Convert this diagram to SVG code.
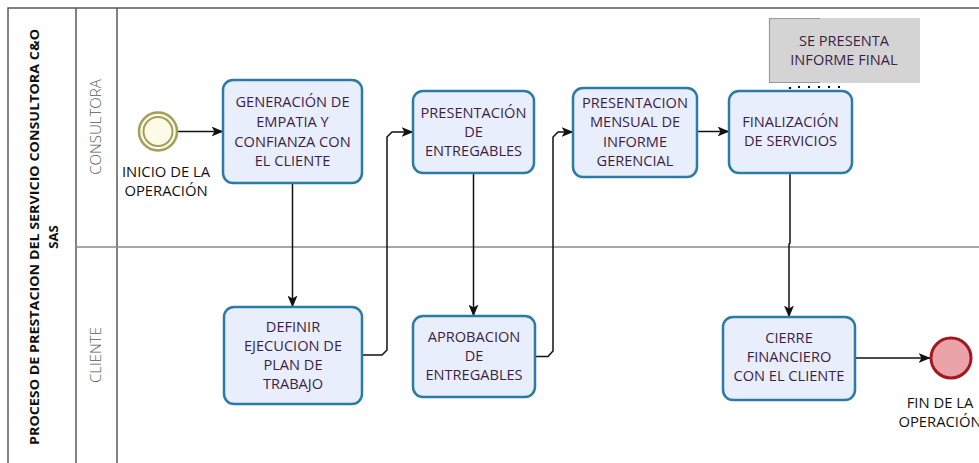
<svg xmlns="http://www.w3.org/2000/svg" width="979" height="463" viewBox="0 0 979 463">
<style>
text{font-family:"Open Sans","Noto Sans","Liberation Sans",sans-serif;font-size:14.6px;text-anchor:middle}
.task rect{fill:#e9eefc;stroke:#2b7ba6;stroke-width:2.5}
.task text{fill:#3d1f45}
.pool{fill:none;stroke:#5a5a5a;stroke-width:1.5}
.lanediv{stroke:#8a8a8a;stroke-width:1.5}
.lane{fill:#5a5a5a;font-weight:300;font-size:15px}
.flow{fill:none;stroke:#111;stroke-width:1.5;marker-end:url(#arr)}
.ev{fill:#111;font-size:14.8px}
.title{font-weight:bold;font-size:13.2px;fill:#111}
</style>
<defs>
<marker id="arr" viewBox="0 0 12 10" refX="11.5" refY="5" markerWidth="12" markerHeight="10" markerUnits="userSpaceOnUse" orient="auto">
<path d="M0,0 L12,5 L0,10 L3,5 z" fill="#111"/>
</marker>
</defs>
<rect width="979" height="463" fill="#fff"/>
<g id="pool">
<path class="pool" d="M979,8 L8,8 L8,470 M76,8 L76,470 M117,8 L117,470"/>
<line class="lanediv" x1="76" y1="247" x2="979" y2="247"/>
<text class="title" transform="translate(39,237) rotate(-90)" textLength="416" lengthAdjust="spacingAndGlyphs">PROCESO DE PRESTACION DEL SERVICIO CONSULTORA C&amp;O</text>
<text class="title" transform="translate(58,237) rotate(-90)">SAS</text>
</g>
<g id="lane-consultora"><text class="lane" transform="translate(101,127) rotate(-90)">CONSULTORA</text></g>
<g id="lane-cliente"><text class="lane" transform="translate(101,355) rotate(-90)">CLIENTE</text></g>
<g id="connectors">
<path class="flow" d="M178,131.5 L223,131.5"/>
<path class="flow" d="M292.5,183 L292.5,307"/>
<path class="flow" d="M362,355 L382,355 L387,350 L387,137 L392,132 L413,132"/>
<path class="flow" d="M473.5,173 L473.5,316"/>
<path class="flow" d="M535,356.5 L548,356.5 L553,351 L553,137 L558,132 L573,132"/>
<path class="flow" d="M697,131.5 L729,131.5"/>
<path class="flow" d="M790,173 L790,243 L789,244 L789,317"/>
<path class="flow" d="M855,358 L930,358"/>
<path d="M790,89 L790,87 L843,87" fill="none" stroke="#111" stroke-width="2.2" stroke-dasharray="2 8"/>
</g>
<g id="start">
<circle cx="158" cy="131.5" r="19" fill="#fdfbe8" stroke="#a39e5a" stroke-width="2.5"/>
<circle cx="158" cy="131.5" r="14.5" fill="#fdfbe8" stroke="#a39e5a" stroke-width="2"/>
<text class="ev" x="166" y="177">INICIO DE LA</text>
<text class="ev" x="166" y="196">OPERACIÓN</text>
</g>
<g id="t1" class="task">
<rect x="223" y="80" width="139" height="103" rx="10"/>
<text x="292.5" y="107">GENERACIÓN DE</text>
<text x="292.5" y="127">EMPATIA Y</text>
<text x="292.5" y="147">CONFIANZA CON</text>
<text x="292.5" y="166">EL CLIENTE</text>
</g>
<g id="t2" class="task">
<rect x="413" y="91" width="121" height="82" rx="10"/>
<text x="473.5" y="118">PRESENTACIÓN</text>
<text x="473.5" y="137">DE</text>
<text x="473.5" y="156">ENTREGABLES</text>
</g>
<g id="t3" class="task">
<rect x="573" y="88" width="124" height="89" rx="10"/>
<text x="635" y="108">PRESENTACION</text>
<text x="635" y="127">MENSUAL DE</text>
<text x="635" y="147">INFORME</text>
<text x="635" y="166">GERENCIAL</text>
</g>
<g id="t4" class="task">
<rect x="729" y="91" width="123" height="82" rx="10"/>
<text x="790.5" y="127">FINALIZACIÓN</text>
<text x="790.5" y="146">DE SERVICIOS</text>
</g>
<g id="note">
<rect x="769" y="18" width="151" height="65" fill="#d4d4d4"/>
<path d="M820,18.5 L769.5,18.5 L769.5,82.5 L820,82.5" fill="none" stroke="#9a9a9a" stroke-width="1.2"/>
<text x="844" y="46" fill="#3d1f45">SE PRESENTA</text>
<text x="844" y="65" fill="#3d1f45">INFORME FINAL</text>
</g>
<g id="t5" class="task">
<rect x="224" y="307" width="138" height="97" rx="10"/>
<text x="293" y="332">DEFINIR</text>
<text x="293" y="351">EJECUCION DE</text>
<text x="293" y="370">PLAN DE</text>
<text x="293" y="389">TRABAJO</text>
</g>
<g id="t6" class="task">
<rect x="413" y="316" width="122" height="81" rx="10"/>
<text x="474" y="342">APROBACION</text>
<text x="474" y="361">DE</text>
<text x="474" y="380">ENTREGABLES</text>
</g>
<g id="t7" class="task">
<rect x="723" y="317" width="132" height="83" rx="10"/>
<text x="789" y="343">CIERRE</text>
<text x="789" y="362">FINANCIERO</text>
<text x="789" y="381">CON EL CLIENTE</text>
</g>
<g id="end">
<circle cx="951" cy="358" r="20" fill="#eba3aa" stroke="#a3181f" stroke-width="3"/>
<text class="ev" x="940" y="408">FIN DE LA</text>
<text class="ev" x="940" y="427">OPERACIÓN</text>
</g>
</svg>
